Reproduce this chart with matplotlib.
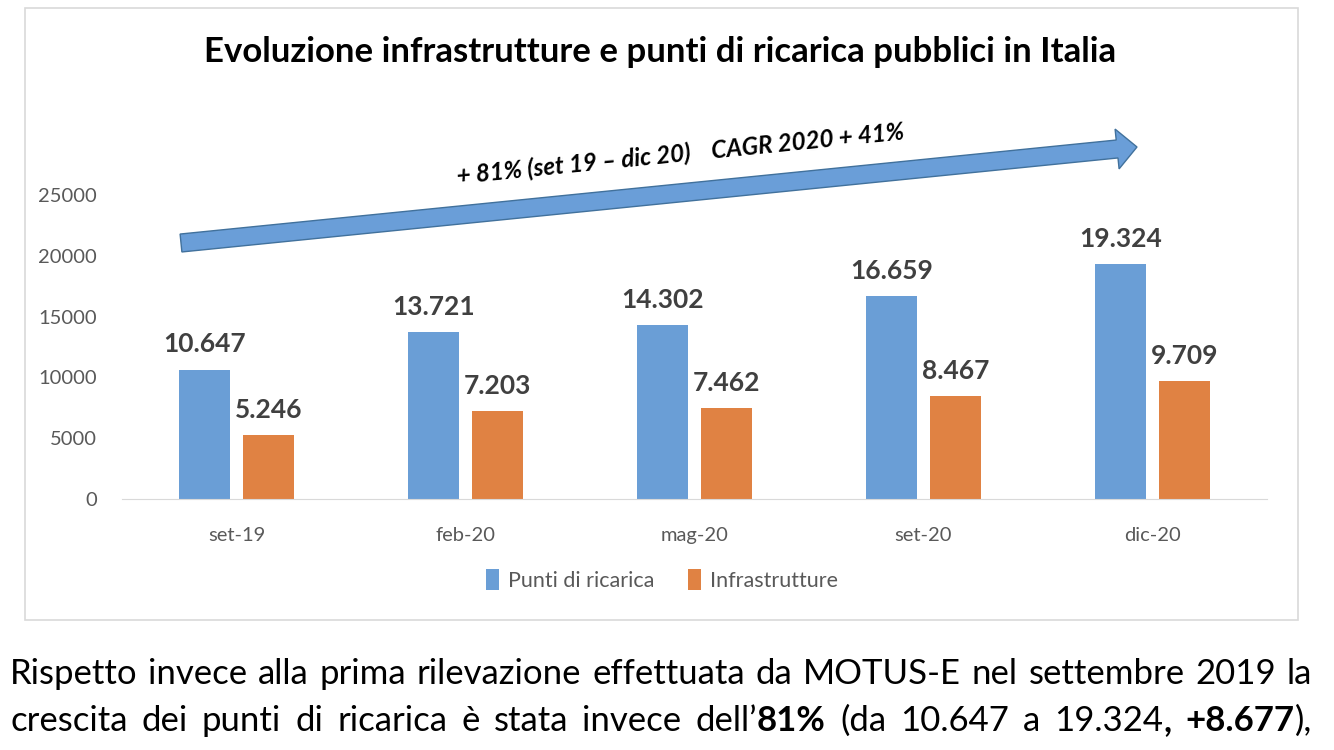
import matplotlib.pyplot as plt
import matplotlib.patches as mpatches
from matplotlib.transforms import Affine2D
import numpy as np

plt.rcParams['font.family'] = ['Lato', 'DejaVu Sans']

months = ["set-19", "feb-20", "mag-20", "set-20", "dic-20"]
punti = [10647, 13721, 14302, 16659, 19324]
infra = [5246, 7203, 7462, 8467, 9709]
punti_labels = ["10.647", "13.721", "14.302", "16.659", "19.324"]
infra_labels = ["5.246", "7.203", "7.462", "8.467", "9.709"]

blue = "#6A9ED6"
orange = "#E08243"
grey = "#595959"

fig = plt.figure(figsize=(13.34, 7.5), dpi=100)
# pixel coords with origin top-left
px = Affine2D().scale(1 / 100, -1 / 100).translate(0, 7.5) + fig.dpi_scale_trans

# chart frame
fig.patches.append(mpatches.Rectangle((25, 8), 1273, 612, transform=px, fill=False,
                                      edgecolor="#D9D9D9", linewidth=1.2))

ax = fig.add_axes([122 / 1334, 251 / 750, 1145 / 1334, 304 / 750])
x = np.arange(len(months))
off = 0.14
w = 0.22
ax.bar(x - off, punti, w, color=blue, label="Punti di ricarica")
ax.bar(x + off, infra, w, color=orange, label="Infrastrutture")

for i in range(len(months)):
    ax.annotate(punti_labels[i], (x[i] - off, punti[i]), xytext=(0, 9.5), textcoords="offset points",
                ha="center", va="bottom", fontsize=19, fontweight="bold", color="#404040")
    ax.annotate(infra_labels[i], (x[i] + off, infra[i]), xytext=(0, 9.5), textcoords="offset points",
                ha="center", va="bottom", fontsize=19, fontweight="bold", color="#404040")

ax.set_xlim(-0.5, 4.5)
ax.set_ylim(0, 25000)
ax.set_yticks(range(0, 25001, 5000))
ax.set_xticks(x)
ax.set_xticklabels(months)
ax.tick_params(length=0, labelsize=14.5, labelcolor=grey)
ax.tick_params(axis="y", pad=18)
ax.tick_params(axis="x", pad=20)
for s in ["top", "right", "left"]:
    ax.spines[s].set_visible(False)
ax.spines["bottom"].set_color("#D9D9D9")
ax.patch.set_alpha(0)

fig.text(660, 52, "Evoluzione infrastrutture e punti di ricarica pubblici in Italia", transform=px,
         ha="center", va="center", fontsize=25, fontweight="bold", color="black")

# growth arrow
arrow = mpatches.FancyArrow(181, 243, 956, -96, width=18, head_width=40, head_length=20,
                            length_includes_head=True, transform=px,
                            facecolor="#6A9ED8", edgecolor="#41719C", linewidth=1)
fig.patches.append(arrow)
fig.text(680, 154, "+ 81% (set 19 \u2013 dic 20)    CAGR 2020 + 41%", transform=px,
         ha="center", va="center", rotation=5.7, rotation_mode="anchor",
         fontsize=17.4, fontweight="bold", fontstyle="italic", color="black")

fig.legend(loc="center", bbox_to_anchor=(662 / 1334, 1 - 580 / 750), ncol=2, frameon=False,
           fontsize=15.5, labelcolor=grey, handlelength=0.6, handleheight=1.1,
           handletextpad=0.4, columnspacing=1.6)

# paragraph below the chart, justified between x=10 and x=1312
fs = 25
line1 = [("Rispetto invece alla prima rilevazione effettuata da MOTUS-E nel settembre 2019 la", "normal")]
line2 = [("crescita dei punti di ricarica è stata invece dell\u2019", "normal"), ("81%", "bold"),
         (" (da 10.647 a 19.324", "normal"), (", +8.677", "bold"), ("),", "normal")]


def split_words(segments):
    words = [[]]
    for txt, wt in segments:
        pieces = txt.split(" ")
        for k, p in enumerate(pieces):
            if k > 0:
                words.append([])
            if p:
                words[-1].append((p, wt))
    return [wd for wd in words if wd]


renderer = fig.canvas.get_renderer()


def width_of(txt, wt):
    t = fig.text(0, 0, txt, fontsize=fs, fontweight=wt)
    wpx = t.get_window_extent(renderer).width
    t.remove()
    return wpx


def draw_line(segments, ypix, left=10, right=1312):
    words = split_words(segments)
    widths = [[width_of(p, wt) for p, wt in wd] for wd in words]
    total = sum(sum(ws) for ws in widths)
    gap = (right - left - total) / (len(words) - 1)
    xpos = left
    for wd, ws in zip(words, widths):
        for (p, wt), wpx in zip(wd, ws):
            fig.text(xpos, ypix, p, transform=px, ha="left", va="baseline",
                     fontsize=fs, fontweight=wt, color="black")
            xpos += wpx
        xpos += gap


draw_line(line1, 684)
draw_line(line2, 731)

fig.savefig("out.png", dpi=100)
